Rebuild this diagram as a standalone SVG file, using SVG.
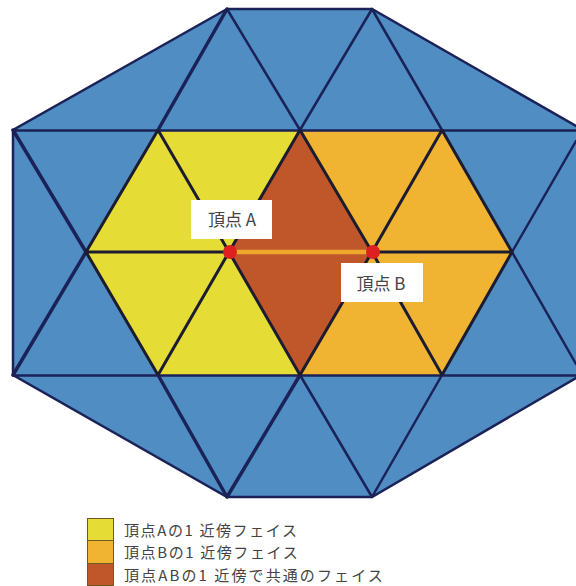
<svg xmlns="http://www.w3.org/2000/svg" width="576" height="586" viewBox="0 0 576 586">
<style>
.e{stroke:#1b2258;fill:none;stroke-width:2.5;stroke-linecap:round}
.t{stroke-width:3.5}
.i{stroke:#1c1c30;stroke-width:3;fill:none}
.l{font-family:"Noto Sans CJK JP","Liberation Sans",sans-serif;fill:#444;font-size:15px}
.b{font-family:"Noto Sans CJK JP","Liberation Sans",sans-serif;fill:#444;font-size:17px;text-anchor:middle}
</style>
<rect width="576" height="586" fill="#fff"/>
<g id="mesh-faces">
<polygon points="227,9 372,9 576,126 576,378 372,497 227,497 13,375 13,130" fill="#4f8dc3"/>
<polygon points="158,130 300,130 229,252 300,375 158,375 86,252" fill="#e6dc36"/>
<polygon points="300,130 442,130 512,252 442,375 300,375 372,252" fill="#f0b432"/>
<polygon points="300,130 372,252 300,375 229,252" fill="#bf572b"/>
</g>
<g id="connectors">
<path class="e" d="M227,9H372L576,126M227,9L13,130V375L227,497H372L576,378M13,130.500H576M13,375.500H576"/>
<path class="e" d="M227,9L300,130M372,9L442,130M372,9L300,130M372,497L300,375M372,497L442,375M512,252L576,141M512,252L576,364"/>
<path class="e t" d="M227,9L158,130M227,497L158,375M300,375L227,497M13,130L86,252M13,375L86,252"/>
<path class="i" d="M86,252H229M372,252H512M158,130L229,252L300,375M300,130L229,252L158,375M300,130L372,252L442,375M442,130L372,252L300,375M158,130L86,252L158,375M442,130L512,252L442,375"/>
<path d="M229,252L372,252" stroke="#f0a82c" stroke-width="4.500"/>
</g>
<g id="vertex-a"><circle cx="230" cy="252" r="7" fill="#dd2020"/>
<rect x="191" y="200" width="81" height="39" fill="#fff"/><text class="b" x="232" y="226">頂点 A</text></g>
<g id="vertex-b"><circle cx="373" cy="252" r="7" fill="#dd2020"/>
<rect x="341" y="263" width="82" height="39" fill="#fff"/><text class="b" x="381" y="290">頂点 B</text></g>
<g id="legend">
<rect x="87.500" y="518.500" width="26" height="22" fill="#e6dc36" stroke="#6f5a25"/>
<rect x="87.500" y="540.500" width="26" height="23" fill="#f0b432" stroke="#6f5a25"/>
<rect x="87.500" y="563.500" width="26" height="22" fill="#bf572b" stroke="#6f5a25"/>
<text class="l" x="124" y="536" style="letter-spacing:1.6px">頂点Aの1 近傍フェイス</text>
<text class="l" x="124" y="558" style="letter-spacing:1.6px">頂点Bの1 近傍フェイス</text>
<text class="l" x="124" y="581" style="letter-spacing:2.100px">頂点ABの1 近傍で共通のフェイス</text>
</g>
</svg>
